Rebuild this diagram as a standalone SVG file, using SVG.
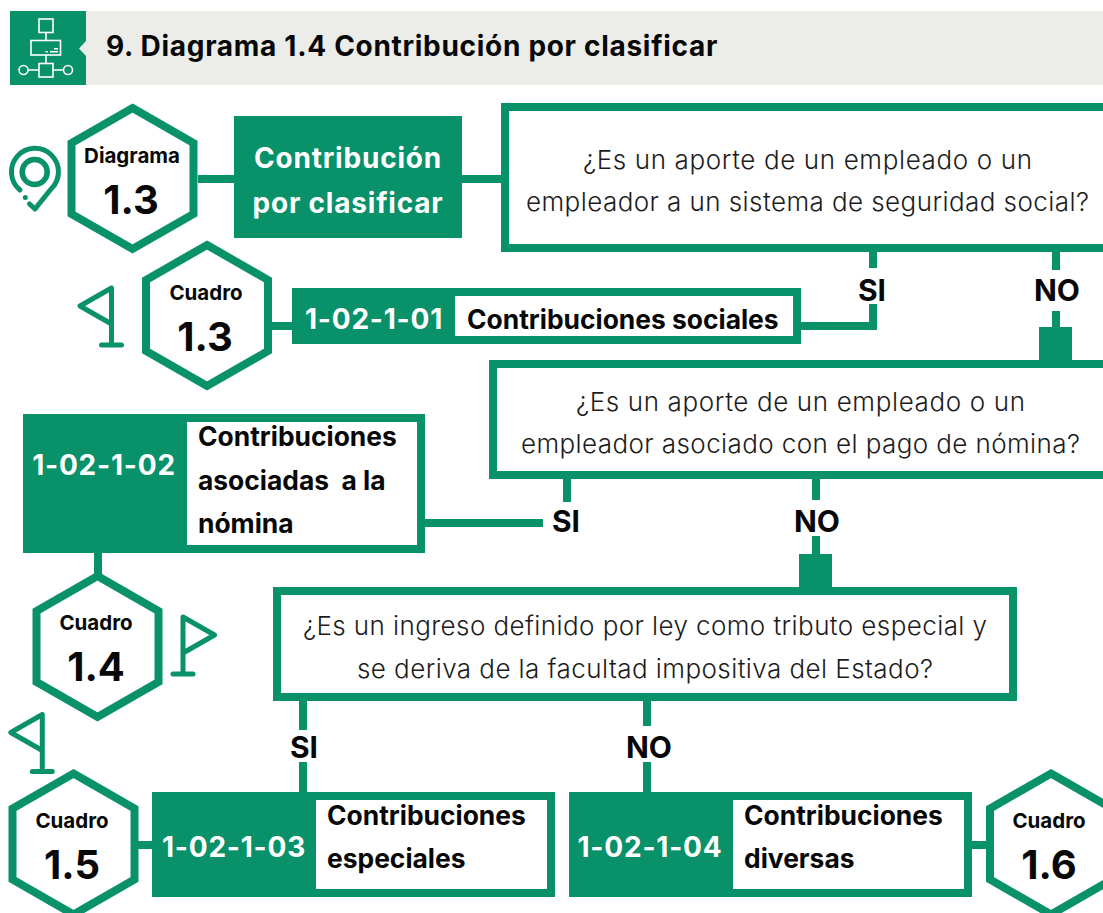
<svg xmlns="http://www.w3.org/2000/svg" width="1103" height="913" viewBox="0 0 1103 913">
<style>
.g{fill:#099169}
.box{fill:#fff;stroke:#099169;stroke-width:8}
.ln{stroke:#099169;stroke-width:8;fill:none}
.fl{stroke:#099169;stroke-width:5;fill:none;stroke-linecap:round;stroke-linejoin:round}
.ic{stroke:#fff;stroke-width:1.6;fill:none}
text{font-family:"Inter","Liberation Sans",sans-serif;fill:#080808;white-space:pre}
.t{font-size:28px;font-weight:700;letter-spacing:.7px}
.q{font-size:26px;font-weight:300;fill:#1c1c1c;text-anchor:middle}
.yn{font-size:30px;font-weight:700;text-anchor:middle}
.w{fill:#fff;font-weight:700;font-size:28px;letter-spacing:.8px;text-anchor:middle}
.k{font-size:26.400px;font-weight:700}
.hs{font-size:20.500px;font-weight:700;text-anchor:middle}
.hn{font-size:40px;font-weight:700;text-anchor:middle}
</style>
<defs>
<polygon id="hex" points="0,-70.500 61,-35.500 61,35.500 0,70.500 -61,35.500 -61,-35.500" fill="#fff" stroke="#099169" stroke-width="8"/>
<g id="flag"><path class="fl" d="M0,0 L-31.500,18 L0,36 Z M0,0 V57 M-10,57 H10"/></g>
</defs>
<g id="header">
<rect x="86" y="11" width="1017" height="74" fill="#ecece8"/>
<rect x="10" y="11" width="76" height="74" class="g"/>
<polygon points="79,48.500 86,41 86,56" fill="#ecece8"/>
<g class="ic">
<rect x="39" y="19" width="14" height="13.500"/>
<path d="M46,32.500 V40.500 M46,55 V63.500 M28,70 H39 M53,70 H63.500"/>
<rect x="31" y="40.500" width="29.500" height="14.500"/>
<rect x="39" y="63.500" width="14" height="13.500"/>
<circle cx="23.500" cy="70" r="4.500"/>
<circle cx="68" cy="70" r="4.500"/>
<path d="M45.500,51.800 H48 M50,51.800 H58 M54,48.800 H58"/>
</g>
<text x="106" y="56" class="t">9. Diagrama 1.4 Contribución por clasificar</text>
</g>
<g id="connectors">
<path class="ln" d="M198,179 H234 M462,179 H502"/>
<path class="ln" d="M873,251 V268 M873,304 V326 H801"/>
<path class="ln" d="M1056,251 V270 M1056,311 V330"/>
<rect x="1039" y="327" width="33" height="35" class="g"/>
<path class="ln" d="M567,479 V502 M425,523 H543"/>
<path class="ln" d="M816,479 V500 M816,536 V556"/>
<rect x="799" y="554" width="33" height="36" class="g"/>
<path class="ln" d="M98,553 V576"/>
<path class="ln" d="M303,701 V730 M303,762 V792"/>
<path class="ln" d="M647,701 V726 M647,762 V792"/>
<path class="ln" d="M135,845 H152 M972,845 H990"/>
<path class="ln" d="M272,326 H292"/>
</g>
<g id="pin">
<circle cx="34.700" cy="172" r="12.500" fill="none" stroke="#099169" stroke-width="5.500"/>
<path d="M20,190 A23.500,23.500 0 1 1 51,189 L35,209 L29.500,204" fill="none" stroke="#099169" stroke-width="5" stroke-linecap="round" stroke-linejoin="round"/>
<circle cx="25.300" cy="197.500" r="2.500" class="g"/>
</g>
<use href="#flag" x="111.500" y="288"/>
<use href="#flag" transform="translate(183,617) scale(-1,1)"/>
<use href="#flag" x="42.300" y="714.500"/>
<g id="hex-d13"><use href="#hex" x="132.500" y="178.500"/>
<text x="132" y="163" class="hs">Diagrama</text><text x="131" y="214" class="hn">1.3</text></g>
<g id="hex-c13"><use href="#hex" x="207" y="315.500"/>
<text x="206" y="300" class="hs">Cuadro</text><text x="205" y="351" class="hn">1.3</text></g>
<g id="hex-c14"><use href="#hex" x="97.500" y="646.500"/>
<text x="96" y="630" class="hs">Cuadro</text><text x="96" y="681" class="hn">1.4</text></g>
<g id="hex-c15"><use href="#hex" x="73.500" y="844"/>
<text x="72" y="828" class="hs">Cuadro</text><text x="72" y="879" class="hn">1.5</text></g>
<g id="hex-c16"><use href="#hex" x="1051" y="844"/>
<text x="1049" y="828" class="hs">Cuadro</text><text x="1049" y="879" class="hn">1.6</text></g>
<g id="start"><rect x="234" y="116" width="228" height="122" class="g"/>
<text x="348" y="168" class="w">Contribución</text><text x="348" y="213" class="w">por clasificar</text></g>
<g id="q1"><rect x="505" y="107" width="610" height="141" class="box"/>
<text x="807.500" y="169" class="q" textLength="449">¿Es un aporte de un empleado o un</text>
<text x="807.500" y="211" class="q" textLength="563">empleador a un sistema de seguridad social?</text></g>
<text x="872" y="301" class="yn">SI</text><text x="1057" y="301" class="yn">NO</text>
<g id="n01"><rect x="296" y="292" width="501" height="48" class="box"/><rect x="292" y="288" width="163" height="56" class="g"/>
<text x="374" y="329" class="w">1-02-1-01</text><text x="467" y="329" class="k">Contribuciones sociales</text></g>
<g id="q2"><rect x="493" y="364" width="620" height="111" class="box"/>
<text x="800.500" y="411" class="q" textLength="449">¿Es un aporte de un empleado o un</text>
<text x="800.500" y="453" class="q" textLength="559">empleador asociado con el pago de nómina?</text></g>
<text x="566" y="532" class="yn">SI</text><text x="817" y="532" class="yn">NO</text>
<g id="n02"><rect x="27" y="418" width="394" height="131" class="box"/><rect x="23" y="414" width="164" height="139" class="g"/>
<text x="104" y="475" class="w">1-02-1-02</text>
<text x="198" y="446" class="k">Contribuciones</text><text x="198" y="490" class="k">asociadas  a la</text><text x="198" y="533" class="k">nómina</text></g>
<g id="q3"><rect x="277" y="591" width="736" height="106" class="box"/>
<text x="645" y="635" class="q" textLength="684">¿Es un ingreso definido por ley como tributo especial y</text>
<text x="645" y="678" class="q" textLength="576">se deriva de la facultad impositiva del Estado?</text></g>
<text x="304" y="758" class="yn">SI</text><text x="649" y="758" class="yn">NO</text>
<g id="n03"><rect x="156" y="796" width="395" height="97" class="box"/><rect x="152" y="792" width="164" height="105" class="g"/>
<text x="234" y="857" class="w">1-02-1-03</text>
<text x="327" y="825" class="k">Contribuciones</text><text x="327" y="868" class="k">especiales</text></g>
<g id="n04"><rect x="573" y="796" width="395" height="97" class="box"/><rect x="569" y="792" width="164" height="105" class="g"/>
<text x="650" y="857" class="w">1-02-1-04</text>
<text x="744" y="825" class="k">Contribuciones</text><text x="744" y="868" class="k">diversas</text></g>
</svg>
